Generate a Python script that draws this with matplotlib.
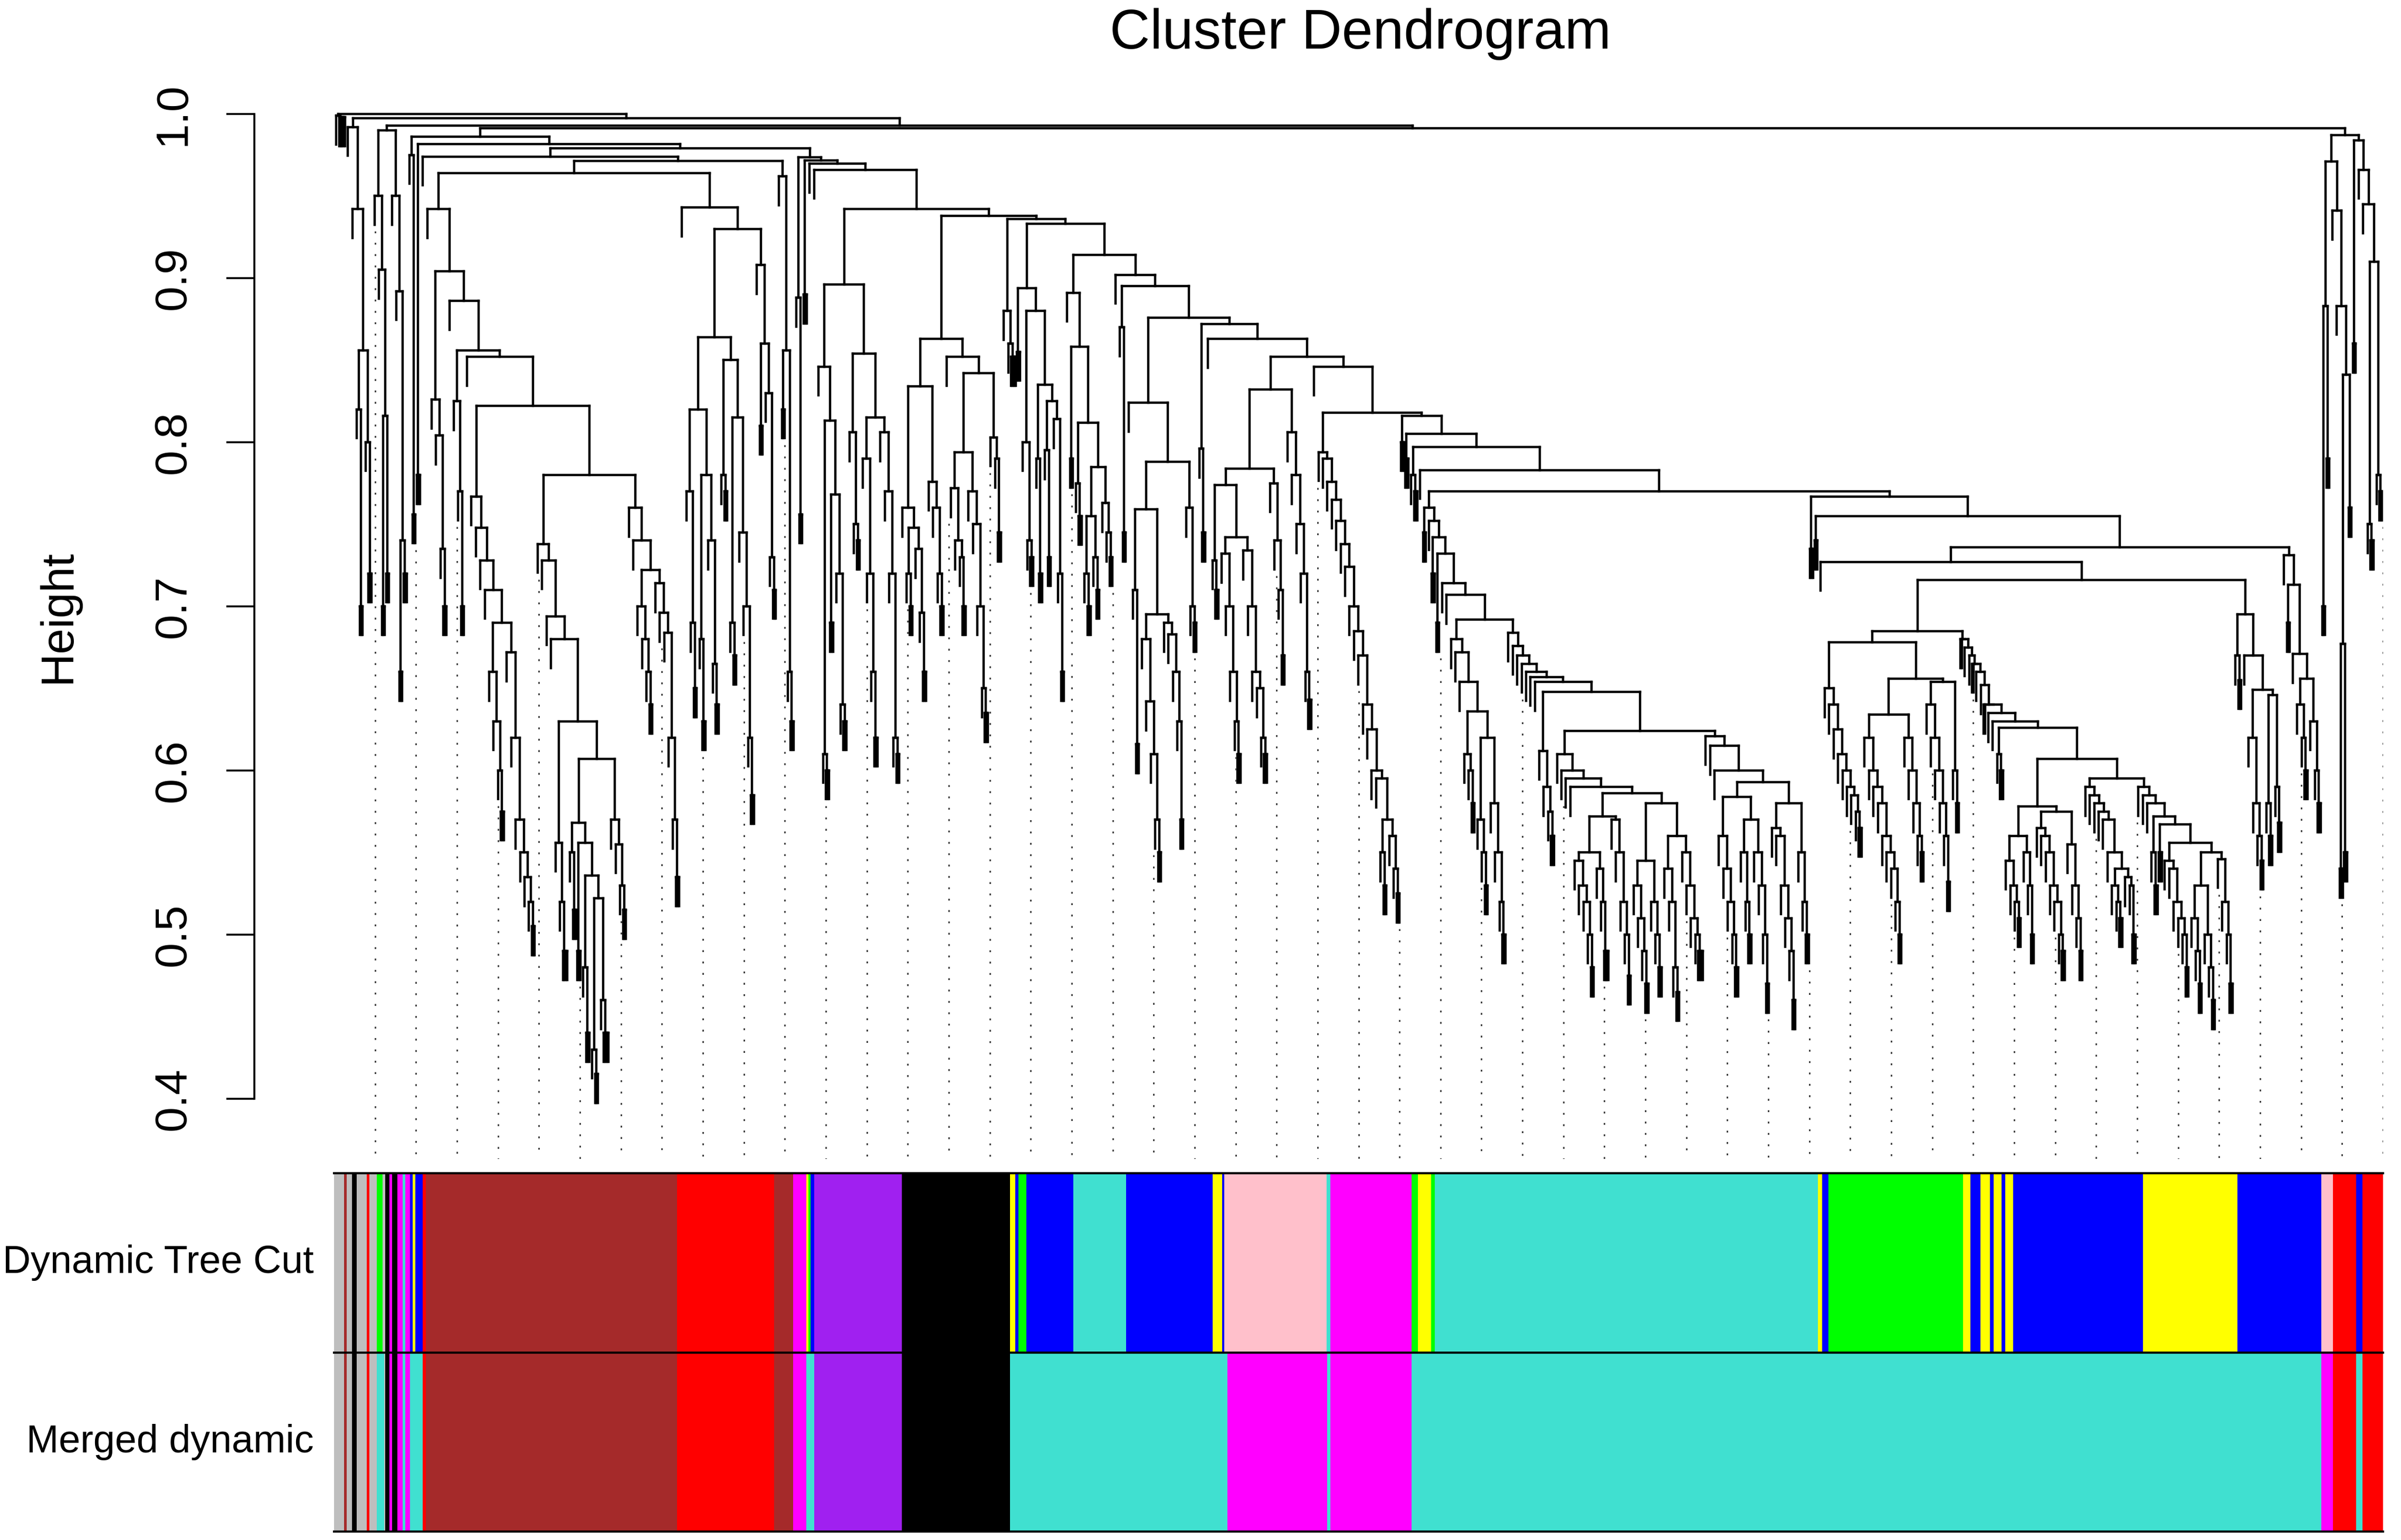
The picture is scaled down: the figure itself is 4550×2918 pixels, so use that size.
import re
import matplotlib
matplotlib.use("Agg")
import matplotlib.pyplot as plt
from matplotlib.collections import LineCollection

plt.rcParams['font.family'] = ['Liberation Sans', 'DejaVu Sans']
plt.rcParams['lines.scale_dashes'] = False

# module colour rows: segment edges in percent of the gene order, left to right
dynamic_edges = [0, 0.49, 0.62, 0.88, 1.11, 1.60, 1.73, 2.09, 2.37, 2.50,
                 2.70, 2.83, 3.09, 3.35, 3.48, 3.71, 3.84, 3.97, 4.33, 4.48,
                 16.74, 21.48, 22.41, 23.05, 23.16, 23.26, 23.44, 27.71, 32.99, 33.25,
                 33.41, 33.79, 36.08, 38.66, 42.88, 43.34, 43.45, 48.44, 48.62, 52.59,
                 52.90, 53.54, 53.72, 72.42, 72.63, 72.93, 79.50, 79.86, 80.35, 80.81,
                 80.99, 81.38, 81.56, 81.95, 88.28, 92.89, 96.99, 97.55, 98.69, 99.00, 100]
dynamic_colors = ["grey", "brown", "grey", "black", "grey", "red", "grey", "green", "grey", "black",
                  "magenta", "black", "magenta", "turquoise", "magenta", "blue", "yellow", "blue", "red", "brown",
                  "red", "brown", "magenta", "yellow", "green", "blue", "purple", "black", "yellow", "blue",
                  "green", "blue", "turquoise", "blue", "yellow", "blue", "pink", "turquoise", "magenta", "green",
                  "yellow", "green", "turquoise", "yellow", "blue", "green", "yellow", "blue", "yellow", "blue",
                  "yellow", "blue", "yellow", "blue", "yellow", "blue", "pink", "red", "blue", "red"]
merged_edges = [0, 0.49, 0.62, 0.88, 1.11, 1.60, 1.73, 2.09, 2.45, 2.50,
                2.70, 2.83, 3.09, 3.35, 3.48, 3.71, 4.33, 4.48, 16.74, 21.48,
                22.41, 23.05, 23.44, 27.71, 32.99, 43.61, 48.46, 48.62, 52.59, 96.99,
                97.55, 98.69, 99.00, 100]
merged_colors = ["grey", "brown", "grey", "black", "grey", "red", "grey", "turquoise", "grey", "black",
                 "magenta", "black", "magenta", "turquoise", "magenta", "turquoise", "red", "brown", "red", "brown",
                 "magenta", "turquoise", "purple", "black", "turquoise", "magenta", "turquoise", "magenta", "turquoise", "magenta",
                 "red", "turquoise", "red"]
row_labels = ["Merged dynamic", "Dynamic Tree Cut"]
y_ticks = [0.4, 0.5, 0.6, 0.7, 0.8, 0.9, 1.0]

r_colors = {"grey": "#BEBEBE", "brown": "#A52A2A", "red": "#FF0000", "green": "#00FF00",
            "black": "#000000", "magenta": "#FF00FF", "turquoise": "#40E0D0", "pink": "#FFC0CB",
            "blue": "#0000FF", "yellow": "#FFFF00", "purple": "#A020F0"}

# dendrogram merge heights
# (h A B) merge at h | [h1 h2 .. X] chain, one gene joins at each height
# h*k  k genes joining at h (dense bundle) | h/b  a tight bundle hanging from b | . one gene
tree_A = "[0.999 0.998*4]"
tree_B = "[0.992 0.942 (0.856 [0.82 0.70*2] [0.80 0.72*2])]"
tree_C = "(0.99 [0.95 0.905 (0.816 [0.70*2] [0.72*2])] [0.95 0.892 (0.74 [0.66*2] [0.72*2])])"
tree_E1 = "[0.975 0.756*2]"
tree_D1 = "[0.78*2]"

lb3 = "[0.826 0.804 0.735 0.70*2]"
lb6 = "[0.825 0.77 0.70*2]"
lb9 = "[0.767 0.748 0.728 0.71 (0.69 [0.66 0.63 0.60 0.575*2] [0.672 0.62 0.57 0.55 0.535 0.52 0.505*2])]"
lb11_a = "[0.556 0.52 0.49*3]"
lb11_b = "(0.568 [0.55 0.515*2] (0.556 [0.49*2] (0.536 [0.48 0.44*2] (0.522 [0.43 0.415*2] [0.46 0.44*3]))))"
lb11_c = "[0.57 0.555 0.53 0.515*2]"
lb12 = "[0.76 0.74 (0.722 [0.70 0.68 0.66 0.64*2] [0.714 0.696 0.684 0.62 0.57 0.535*2])]"

rb1 = ("(0.864 (0.82 [0.77 0.69 0.65*2] (0.78 [0.68 0.63*2] [0.74 0.665 0.64*2])) "
       "(0.85 [0.78 0.77*2] (0.815 [0.69 0.67*2] [0.745 0.70 0.62 0.585*2])))")
rb2 = "[0.908 (0.86 [0.81*2] [0.83 0.73 0.71*2])]"
x1477 = "[0.962 (0.856 [0.82*2] [0.66 0.63*2])]"

m1 = "[0.888 0.756*2]"
m2 = "[0.89*2]"
purple = ("(0.896 (0.846 . (0.813 [0.61 0.60*2] (0.768 [0.69*2] [0.72 0.64 0.63*2]))) "
          "(0.854 [0.806 0.75 0.74*2] (0.815 [0.79 0.72 0.66 0.62*2] [0.806 0.77 0.72 0.62 0.61*2])))")
black = ("(0.863 (0.834 [0.76 (0.748 [0.72 0.70*2] [0.735 0.696 0.66*2])] [0.776 0.76 0.72 0.70*2]) "
         "(0.852 . (0.842 (0.794 [0.772 0.74 0.73 0.70*2] [0.77 0.75 0.70 0.65 0.635*2]) [0.803 0.79 0.745*2])))")
yg = "[0.88 0.86 0.852*3]"
blue1 = "(0.894 [0.855*2] (0.88 [0.80 0.74 0.73*2] (0.835 [0.79 0.72*2] (0.825 [0.795 0.73*2] [0.814 0.72 0.66*2]))))"
turq_a = "(0.891 . (0.858 [0.79*2] (0.812 [0.775 0.755*2] (0.785 (0.755 [0.72 0.70*2] [0.73 0.71*2]) [0.763 0.745 0.73*2]))))"
sp8 = "[0.87 0.745*2]"
blue_b = ("(0.824 . (0.788 (0.759 [0.71 0.616*2] (0.695 [0.68 0.642 0.61 0.57 0.55*2] "
          "[0.69 0.683 0.66 0.63 0.57*2])) [0.76 0.70 0.69*2]))")
sp10 = "[0.796 0.745*2]"
pink = ("(0.832 (0.784 (0.774 [0.728 0.71*2] (0.742 [0.732 0.70 0.66 0.63 0.61*2] [0.734 0.70 0.66 0.65 0.62 0.61*2])) "
        "[0.775 0.74 0.71 0.67*2]) [0.806 0.78 0.75 0.72 0.66 0.643*2])")
magenta = ("[0.794 0.79 0.776 0.765 0.752 0.738 0.724 0.70 0.685 0.67 0.64 0.625 0.60 0.595 "
           "(0.57 [0.55 0.53*2] [0.56 0.54 0.525*2])]")
sp16 = "[0.80*2]"
sp17 = "[0.79*2]"
sp18 = "[0.78 0.77*2]"

tq_a = "(0.68 . (0.672 . (0.654 . (0.636 [0.61 0.60 0.58*2] (0.62 [0.57 0.55 0.53*2] [0.58 0.55 0.52 0.50*2])))))"
tq_b1 = "[0.612 0.59 0.575 0.56*2]"
tq_c = ("[0.61 0.60 0.595 0.59 (0.586 (0.572 (0.55 [0.545 0.53 0.52 0.50 0.48*2] [0.54 0.52 0.49*3]) "
        "[0.57 0.55 0.52 0.50 0.475*2]) (0.58 (0.545 [0.53 0.51 0.49 0.47*2] [0.52 0.50 0.48*2]) "
        "(0.56 [0.54 0.52 0.48 0.465*2] [0.55 0.53 0.51 0.50 0.49*3])))]")
tq_d = ("[0.621 0.615 0.60 (0.593 (0.584 [0.56 0.54 0.52 0.50 0.48*2] (0.57 [0.55 0.52 0.50*2] "
        "[0.55 0.53 0.50 0.47*2])) (0.58 [0.565 0.56 0.53 0.51 0.49 0.46*2] [0.55 0.52 0.50*2]))]")

r0_side = "[0.735*2]"
r2_side = "[0.74*2]"
green = ("(0.678 [0.65 0.64 0.625 0.61 0.60 0.59 0.585 0.575 0.565*2] (0.656 (0.634 [0.62 0.60 0.59 0.58 0.56 0.55 0.54 0.52 0.50*2] "
         "[0.62 0.60 0.58 0.56 0.55*2]) (0.654 [0.64 0.62 0.60 0.58 0.56 0.532*2] [0.60 0.58*2])))")
blue_bb = ("(0.578 (0.56 [0.545 0.53 0.52 0.51*2] [0.55 0.53 0.50*2]) "
           "(0.575 [0.565 0.56 0.55 0.53 0.52 0.50 0.49*2] [0.555 0.53 0.51 0.49*2]))")
blue_c = "[0.59 0.585 0.58 0.575 0.57 0.55 (0.54 [0.53 0.52 0.51*2] [0.535 0.53 0.50*2])]"
yellow = ("[0.59 0.585 0.58 (0.572 [0.55 0.53*2] (0.567 [0.55*2] (0.556 [0.545 0.54 0.52 0.51 0.50 0.48*2] "
          "(0.55 (0.53 [0.51 0.49 0.47*2] [0.50 0.48 0.46*2]) [0.546 0.52 0.50 0.47*2]))))]")
k2 = "(0.695 [0.67 0.655*2] (0.67 . (0.649 [0.62 0.58 0.56 0.545*2] (0.646 [0.58 0.56*2] [0.59 0.568*2]))))"
r4 = "[0.731 0.713/0.69 (0.671 . (0.656 [0.64 0.62 0.60*2] [0.63 0.60 0.58*2]))]"
rc1 = "(0.971 (0.883 [0.70*2] [0.79*2]) [0.941 (0.883 . (0.841 (0.677 [0.54*2] [0.55*2]) [0.76*2]))])"
rc2 = "[0.984/0.86 0.966 0.945 (0.91 [0.75 0.74*2] [0.78 0.77*2])]"

# assemble the larger branches
lb11 = f"[0.738 0.728 0.694 0.68 (0.63 {lb11_a} (0.607 {lb11_b} {lb11_c}))]"
brown = f"[0.942 (0.904 {lb3} [0.886 (0.856 {lb6} [0.852 (0.822 {lb9} (0.780 {lb11} {lb12}))])])]"
red = f"[0.943 (0.93 {rb1} {rb2})]"
tq_b = f"[0.684 0.676 0.67 0.665 0.66 0.657 0.654 (0.648 {tq_b1} (0.624 {tq_c} {tq_d}))]"
turq = f"[0.76/0.745 0.752 0.742/0.72 0.732/0.69 0.714 0.707 (0.692 {tq_a} {tq_b})]"
by = (f"[0.68*2 0.675 0.67 0.665*2 0.66 0.652 0.64*2 0.635 0.63 "
      f"(0.626 [0.61 0.60*2] (0.607 {blue_bb} (0.595 {blue_c} {yellow})))]")
rc = f"(0.987 {rc1} {rc2})"

right_steps = [(0.767, r0_side), (0.755, r2_side)]
right = f"(0.736 (0.727 . (0.716 (0.685 {green} {by}) {k2})) {r4})"
for h, side in reversed(right_steps):
    right = f"({h} {side} {right})"

mid_steps = [(0.9736, m1), (0.9716, m2), (0.9696, "."), (0.966, "."), (0.942, purple), (0.938, black),
             (0.936, yg), (0.933, blue1), (0.914, turq_a), (0.902, "."), (0.895, sp8), (0.876, blue_b),
             (0.872, sp10), (0.863, "."), (0.852, pink), (0.846, "."), (0.818, magenta),
             (0.816, sp16), (0.805, sp17), (0.797, sp18), (0.783, ".")]
stair = f"(0.770 {turq} {right})"
for h, side in reversed(mid_steps):
    stair = f"({h} {side} {stair})"

core = f"(0.979 (0.974 . (0.9714 (0.964 {brown} {red}) {x1477})) {stair})"
core = f"(0.986 {tree_E1} (0.9817 {tree_D1} {core}))"
top_steps = [(1.0, tree_A), (0.9974, tree_B), (0.993, tree_C)]
tree = f"(0.9913 {core} {rc})"
for h, side in reversed(top_steps):
    tree = f"({h} {side} {tree})"

NARROW = 0.33


def side_of(item):
    if '*' in item:
        h, k = item.split('*')
        return [(float(h), ('L', NARROW))] * int(k)
    if '/' in item:
        h, b = item.split('/')
        b = float(b)
        bundle = ('N', b, ('L', NARROW), ('N', b, ('L', NARROW), ('L', NARROW)))
        return [(float(h), bundle)]
    return [(float(item), ('L', 1.0))]


def make_chain(items):
    last = items[-1]
    steps = []
    for it in items[:-1]:
        steps += side_of(it)
    if isinstance(last, tuple):
        cur = last
    else:
        ms = side_of(last)
        steps += ms[:-1]
        h, s = ms[-1]
        cur = ('N', h, s, s)
    for h, s in reversed(steps):
        cur = ('N', h, s, cur)
    return cur


def parse(toks, i):
    t = toks[i]
    if t == '(':
        h = float(toks[i + 1])
        a, i = parse(toks, i + 2)
        b, i = parse(toks, i)
        return ('N', h, a, b), i + 1
    if t == '[':
        i += 1
        items = []
        while toks[i] != ']':
            if toks[i] in ('(', '['):
                sub, i = parse(toks, i)
                items.append(sub)
            else:
                items.append(toks[i])
                i += 1
        return make_chain(items), i + 1
    return ('L', 1.0), i + 1


tokens = re.findall(r"\(|\)|\[|\]|[^\s()\[\]]+", tree)
root, _ = parse(tokens, 0)


def heights(node, out):
    if node[0] == 'N':
        out.append(node[1])
        heights(node[2], out)
        heights(node[3], out)
    return out


all_h = heights(root, [])
hang = 0.03 * (max(all_h) - min(all_h))

segs = []
leaves = []
cursor = [0.0]


def layout(node, parent_h):
    if node[0] == 'L':
        x = cursor[0] + node[1] / 2
        cursor[0] += node[1]
        leaves.append((x, parent_h - hang))
        return x, parent_h - hang
    h = node[1]
    xa, ya = layout(node[2], h)
    xb, yb = layout(node[3], h)
    segs.append([(xa, h), (xb, h)])
    segs.append([(xa, h), (xa, ya)])
    segs.append([(xb, h), (xb, yb)])
    return (xa + xb) / 2, h


layout(root, max(all_h) + hang)
W = cursor[0]

fig = plt.figure(figsize=(45.5, 29.18), dpi=100)
ax = fig.add_axes([633 / 4550, 1 - 2196 / 2918, 3883 / 4550, (2196 - 140) / 2918])
bax = fig.add_axes([633 / 4550, 1 - 2902 / 2918, 3883 / 4550, (2902 - 2223) / 2918])

ylo, yhi = 0.3633, 1.0244
ax.add_collection(LineCollection(segs, colors='black', linewidths=3.2, capstyle='projecting'))

# guide lines down from the dendrogram
guide_count = 50
for k in range(1, guide_count + 1):
    gx = k * W / guide_count
    lx, ly = min(leaves, key=lambda p: abs(p[0] - gx))
    ax.plot([gx, gx], [ly - 0.004, ylo], color='0.2', lw=2.0, dashes=(2.5, 13))

ax.set_xlim(0, W)
ax.set_ylim(ylo, yhi)
for s in ['top', 'right', 'bottom']:
    ax.spines[s].set_visible(False)
ax.spines['left'].set_position(('outward', 108.7))
ax.spines['left'].set_bounds(0.4, 1.0)
ax.spines['left'].set_linewidth(2.6)
ax.set_xticks([])
ax.set_yticks(y_ticks)
ax.set_yticklabels([f"{t:.1f}" for t in y_ticks])
ax.tick_params(axis='y', length=38, width=2.6, pad=44, labelsize=62, labelrotation=90)
for lab in ax.get_yticklabels():
    lab.set_va('center')

fig.text(110 / 4550, 1 - 1168 / 2918, "Height", rotation=90, fontsize=63, ha='center', va='center')
fig.text(2578 / 4550, 1 - 92 / 2918, "Cluster Dendrogram", fontsize=76, ha='center', va='baseline')

# colour rows
for row, (edges, cols) in enumerate([(merged_edges, merged_colors), (dynamic_edges, dynamic_colors)]):
    starts = [e / 100 * W for e in edges[:-1]]
    widths = [(b - a) / 100 * W for a, b in zip(edges[:-1], edges[1:])]
    bax.barh(row + 0.5, widths, left=starts, height=1.0,
             color=[r_colors[c] for c in cols], linewidth=0, antialiased=False)
    bax.text(-0.01, (row + 0.5) / 2, row_labels[row], transform=bax.transAxes,
             ha='right', va='center', fontsize=53)
for yline in [0, 1, 2]:
    bax.plot([0, W], [yline, yline], color='black', lw=3.0, clip_on=False)
bax.set_xlim(0, W)
bax.set_ylim(0, 2)
bax.axis('off')

fig.savefig("out.png", dpi=100)
